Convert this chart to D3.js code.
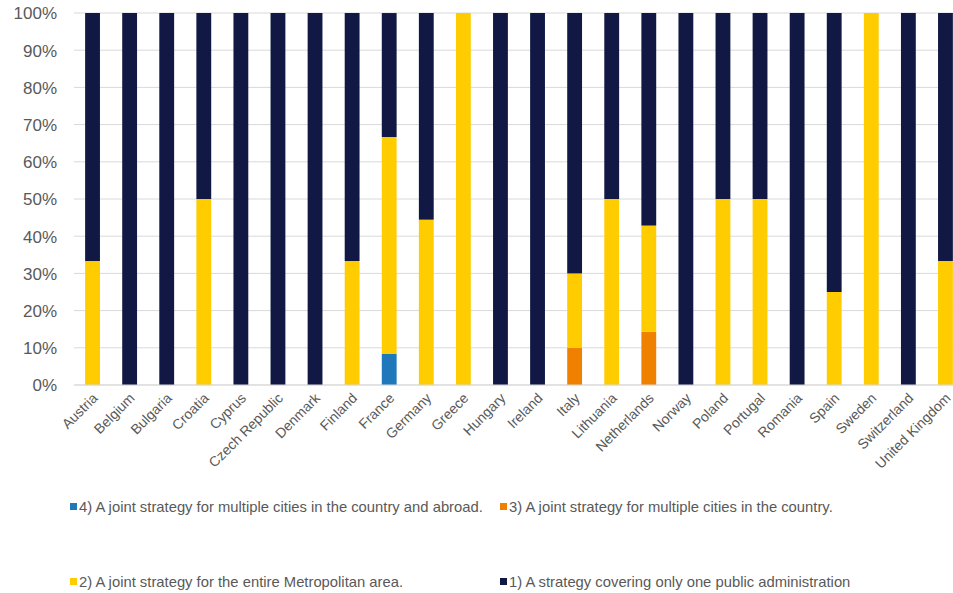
<!DOCTYPE html>
<html><head><meta charset="utf-8">
<script src="https://cdn.jsdelivr.net/npm/d3@7"></script>
<style>body{margin:0;background:#fff;} svg{display:block;font-family:"Liberation Sans",Arial,sans-serif;}</style>
</head><body><svg id="c" width="953" height="593"></svg>
<script>
const countries = ["Austria","Belgium","Bulgaria","Croatia","Cyprus","Czech Republic","Denmark","Finland","France","Germany","Greece","Hungary","Ireland","Italy","Lithuania","Netherlands","Norway","Poland","Portugal","Romania","Spain","Sweden","Switzerland","United Kingdom"];
const s4 = [0,0,0,0,0,0,0,0,8.33,0,0,0,0,0,0,0,0,0,0,0,0,0,0,0];
const s3 = [0,0,0,0,0,0,0,0,0,0,0,0,0,10,0,14.29,0,0,0,0,0,0,0,0];
const s2 = [33.33,0,0,50,0,0,0,33.33,58.33,44.44,100,0,0,20,50,28.57,0,50,50,0,25,100,0,33.33];
const s1 = [66.67,100,100,50,100,100,100,66.67,33.33,55.56,0,100,100,70,50,57.14,100,50,50,100,75,0,100,66.67];
const seriesNames = ["4) A joint strategy for multiple cities in the country and abroad.","3) A joint strategy for multiple cities in the country.","2) A joint strategy for the entire Metropolitan area.","1) A strategy covering only one public administration"];
const colors = ["#1f78b9","#f08000","#ffcc00","#111844"];
const yTicks = [0,10,20,30,40,50,60,70,80,90,100];

const svg = d3.select("#c");
const x = d3.scaleBand().domain(countries).range([74,964]).paddingInner(0.6).paddingOuter(0.3);
const y = d3.scaleLinear().domain([0,100]).range([385,13]);

// gridlines
svg.append("g").selectAll("line").data(yTicks).join("line")
  .attr("x1",74).attr("x2",953).attr("y1",d=>y(d)).attr("y2",d=>y(d))
  .attr("stroke","#d9d9d9").attr("stroke-width",1);

const rows = countries.map((c,i)=>({country:c,s4:s4[i],s3:s3[i],s2:s2[i],s1:s1[i]}));
const keys = ["s4","s3","s2","s1"];
const stack = d3.stack().keys(keys)(rows);
svg.append("g").selectAll("g").data(stack).join("g")
  .attr("fill",(d,i)=>colors[i])
  .selectAll("rect").data(d=>d).join("rect")
  .attr("x",d=>x(d.data.country)).attr("width",x.bandwidth())
  .attr("y",d=>y(d[1])).attr("height",d=>Math.max(0,y(d[0])-y(d[1])));

// y axis
const yAxis = d3.axisLeft(y).tickValues(yTicks).tickFormat(d=>d+"%").tickSize(0).tickPadding(0);
const ya = svg.append("g").attr("transform","translate(57,0)").call(yAxis);
ya.select(".domain").remove();
ya.selectAll("text").attr("fill","#595959").style("font-size","17px").attr("dy","0.35em");

// x axis
const xAxis = d3.axisBottom(x).tickSize(0).tickPadding(0);
const xa = svg.append("g").attr("transform","translate(0,385)").call(xAxis);
xa.select(".domain").attr("stroke","#d9d9d9").attr("d","M74,0H953");
xa.selectAll("text").attr("fill","#595959").style("font-size","14px")
  .attr("text-anchor","end").attr("dy",null).attr("y",0)
  .attr("transform","translate(6,14) rotate(-45)");

// legend
const legPos = [[70,507],[500,507],[70,582],[500,582]];
const leg = svg.append("g").selectAll("g").data(seriesNames).join("g")
  .attr("transform",(d,i)=>`translate(${legPos[i][0]},${legPos[i][1]})`);
leg.append("rect").attr("x",0).attr("y",-4).attr("width",7).attr("height",7).attr("fill",(d,i)=>colors[i]);
leg.append("text").attr("x",9).attr("y",0).attr("dy","0.35em").attr("fill","#595959")
  .style("font-size","14.8px").text(d=>d);
</script></body></html>
